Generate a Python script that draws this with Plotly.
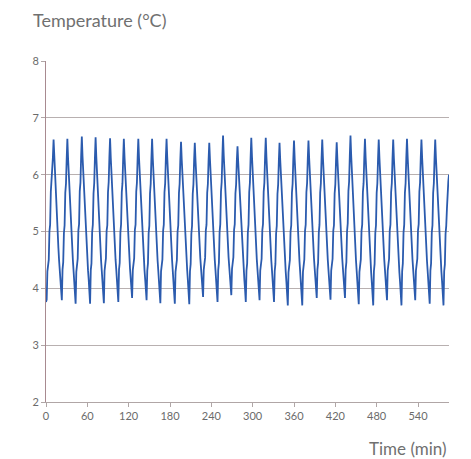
import plotly.graph_objects as go

# Temperature readings, one per minute
temp_start = [3.76, 3.80, 4.30, 4.38, 4.50, 5.00, 5.12, 5.70, 5.85, 6.02, 6.30]

temp_cycles = [
    [6.62, 6.31, 6.03, 5.76, 5.47, 5.21, 4.95, 4.71, 4.49, 4.33, 4.16, 3.97, 3.79, 4.33, 4.46, 4.97, 5.11, 5.68, 5.84, 6.27],
    [6.63, 6.30, 6.01, 5.74, 5.48, 5.23, 4.97, 4.72, 4.50, 4.31, 4.14, 3.96, 3.73, 4.29, 4.39, 4.52, 5.02, 5.13, 5.71, 5.86, 6.31],
    [6.67, 6.33, 6.04, 5.76, 5.49, 5.22, 4.96, 4.73, 4.51, 4.32, 4.15, 3.98, 3.73, 4.32, 4.44, 4.99, 5.12, 5.67, 5.85, 6.29],
    [6.66, 6.32, 6.02, 5.75, 5.47, 5.21, 4.95, 4.71, 4.48, 4.30, 4.13, 3.95, 3.74, 4.31, 4.40, 4.53, 5.01, 5.11, 5.69, 5.87, 6.30],
    [6.64, 6.30, 6.01, 5.74, 5.48, 5.22, 4.97, 4.72, 4.50, 4.33, 4.16, 3.98, 3.76, 4.33, 4.45, 4.98, 5.13, 5.69, 5.85, 6.28],
    [6.63, 6.31, 6.03, 5.75, 5.49, 5.23, 4.98, 4.74, 4.52, 4.34, 4.17, 4.00, 3.83, 4.32, 4.41, 4.53, 5.03, 5.12, 5.70, 5.86, 6.29],
    [6.63, 6.30, 6.02, 5.74, 5.47, 5.21, 4.96, 4.72, 4.50, 4.32, 4.15, 3.97, 3.79, 4.31, 4.44, 4.97, 5.10, 5.67, 5.84, 6.28],
    [6.63, 6.29, 6.00, 5.73, 5.46, 5.20, 4.95, 4.71, 4.49, 4.31, 4.14, 3.96, 3.74, 4.30, 4.39, 4.51, 5.01, 5.12, 5.69, 5.85, 6.30],
    [6.63, 6.31, 6.02, 5.75, 5.48, 5.22, 4.96, 4.72, 4.50, 4.31, 4.14, 3.95, 3.73, 4.29, 4.38, 4.50, 5.00, 5.11, 5.68, 5.84, 6.27],
    [6.58, 6.27, 5.99, 5.72, 5.46, 5.20, 4.95, 4.71, 4.49, 4.31, 4.13, 3.95, 3.72, 4.30, 4.43, 4.96, 5.10, 5.66, 5.83, 6.25],
    [6.56, 6.26, 5.98, 5.72, 5.46, 5.21, 4.97, 4.74, 4.53, 4.36, 4.19, 4.02, 3.85, 4.33, 4.41, 4.54, 5.02, 5.12, 5.68, 5.84, 6.26],
    [6.56, 6.27, 5.99, 5.73, 5.47, 5.21, 4.96, 4.72, 4.50, 4.32, 4.15, 3.98, 3.76, 4.32, 4.45, 4.99, 5.13, 5.70, 5.87, 6.31],
    [6.69, 6.34, 6.04, 5.77, 5.50, 5.25, 5.00, 4.76, 4.55, 4.38, 4.21, 4.05, 3.88, 4.34, 4.42, 4.55, 5.03, 5.13, 5.67, 5.83, 6.24],
    [6.50, 6.22, 5.96, 5.70, 5.44, 5.19, 4.94, 4.70, 4.49, 4.31, 4.14, 3.97, 3.76, 4.31, 4.44, 4.98, 5.12, 5.69, 5.86, 6.30],
    [6.65, 6.32, 6.03, 5.75, 5.48, 5.22, 4.97, 4.73, 4.51, 4.33, 4.16, 3.98, 3.79, 4.31, 4.40, 4.52, 5.02, 5.13, 5.70, 5.86, 6.31],
    [6.65, 6.31, 6.02, 5.74, 5.47, 5.21, 4.96, 4.72, 4.50, 4.32, 4.15, 3.97, 3.76, 4.30, 4.43, 4.96, 5.10, 5.66, 5.83, 6.24],
    [6.56, 6.26, 5.98, 5.71, 5.45, 5.19, 4.94, 4.70, 4.47, 4.29, 4.11, 3.93, 3.70, 4.28, 4.38, 4.50, 5.00, 5.11, 5.68, 5.84, 6.28],
    [6.60, 6.28, 5.99, 5.72, 5.45, 5.19, 4.94, 4.70, 4.47, 4.28, 4.10, 3.92, 3.70, 4.29, 4.39, 4.51, 5.01, 5.12, 5.69, 5.85, 6.28],
    [6.60, 6.29, 6.01, 5.74, 5.48, 5.22, 4.97, 4.74, 4.53, 4.35, 4.18, 4.01, 3.83, 4.33, 4.45, 4.98, 5.12, 5.68, 5.85, 6.29],
    [6.62, 6.30, 6.01, 5.74, 5.47, 5.21, 4.96, 4.72, 4.51, 4.33, 4.16, 3.99, 3.80, 4.31, 4.40, 4.52, 5.01, 5.11, 5.67, 5.83, 6.25],
    [6.57, 6.27, 5.99, 5.73, 5.47, 5.22, 4.97, 4.74, 4.53, 4.35, 4.18, 4.01, 3.83, 4.33, 4.46, 5.00, 5.14, 5.71, 5.88, 6.33],
    [6.69, 6.34, 6.04, 5.76, 5.49, 5.22, 4.96, 4.72, 4.49, 4.30, 4.12, 3.94, 3.72, 4.29, 4.39, 4.51, 5.01, 5.12, 5.69, 5.85, 6.29],
    [6.63, 6.30, 6.01, 5.74, 5.47, 5.21, 4.95, 4.70, 4.47, 4.28, 4.10, 3.92, 3.70, 4.30, 4.43, 4.97, 5.11, 5.68, 5.85, 6.28],
    [6.62, 6.30, 6.01, 5.74, 5.48, 5.22, 4.97, 4.73, 4.51, 4.33, 4.15, 3.97, 3.79, 4.31, 4.40, 4.52, 5.02, 5.12, 5.69, 5.85, 6.29],
    [6.62, 6.29, 6.00, 5.73, 5.46, 5.20, 4.94, 4.70, 4.47, 4.28, 4.10, 3.92, 3.70, 4.30, 4.44, 4.98, 5.12, 5.68, 5.85, 6.29],
    [6.63, 6.31, 6.02, 5.75, 5.48, 5.22, 4.97, 4.73, 4.51, 4.33, 4.16, 3.98, 3.79, 4.31, 4.40, 4.52, 5.02, 5.13, 5.70, 5.86, 6.30],
    [6.62, 6.30, 6.01, 5.74, 5.47, 5.21, 4.96, 4.72, 4.49, 4.31, 4.13, 3.95, 3.73, 4.31, 4.44, 4.98, 5.11, 5.68, 5.85, 6.28],
]

temp_end = [6.62, 6.30, 6.01, 5.74, 5.47, 5.21, 4.95, 4.71, 4.48, 4.29, 4.11, 3.93, 3.70,
            4.30, 4.42, 4.96, 5.10, 5.40, 5.72, 5.88, 6.00]

x_ticks = [0, 60, 120, 180, 240, 300, 360, 420, 480, 540]
y_ticks = [2, 3, 4, 5, 6, 7, 8]

temperature = temp_start + [v for row in temp_cycles for v in row] + temp_end
minutes = list(range(len(temperature)))  # one reading per minute

fig = go.Figure()
fig.add_trace(go.Scatter(
    x=minutes, y=temperature, mode="lines",
    line=dict(color="#2B5BAE", width=1.8),
    showlegend=False, hoverinfo="skip",
))

tick_font = dict(family="Lato, Open Sans, sans-serif", size=11, color="#6b6b6b")

# the page body adds an 8px offset at the top-left
fig.update_layout(
    width=463, height=451,
    margin=dict(l=38, r=22, t=53, b=57),
    paper_bgcolor="white", plot_bgcolor="white",
    xaxis=dict(
        range=[0, 585], tickvals=x_ticks, ticktext=[str(v) for v in x_ticks],
        showgrid=False, zeroline=False,
        showline=True, linecolor="#b0a6a6", linewidth=1,
        ticks="outside", ticklen=4, tickcolor="#b0a6a6", tickwidth=1,
        tickfont=tick_font,
    ),
    yaxis=dict(
        range=[2, 8], tickvals=y_ticks, ticktext=[str(v) for v in y_ticks],
        showgrid=True, gridcolor="#b8b0b0", gridwidth=1, zeroline=False,
        showline=True, linecolor="#a88a90", linewidth=1,
        ticks="outside", ticklen=4, tickcolor="#b0a6a6", tickwidth=1,
        tickfont=tick_font,
    ),
    annotations=[
        dict(text="Temperature (°C)", xref="paper", yref="paper",
             x=-0.037, y=1.12, xanchor="left", yanchor="middle", showarrow=False,
             font=dict(family="Lato, Open Sans, sans-serif", size=18, color="#707070")),
        dict(text="Time (min)", xref="paper", yref="paper",
             x=1.0, y=-0.137, xanchor="right", yanchor="middle", showarrow=False,
             font=dict(family="Lato, Open Sans, sans-serif", size=17, color="#707070")),
    ],
)

fig.write_html("out.html")
